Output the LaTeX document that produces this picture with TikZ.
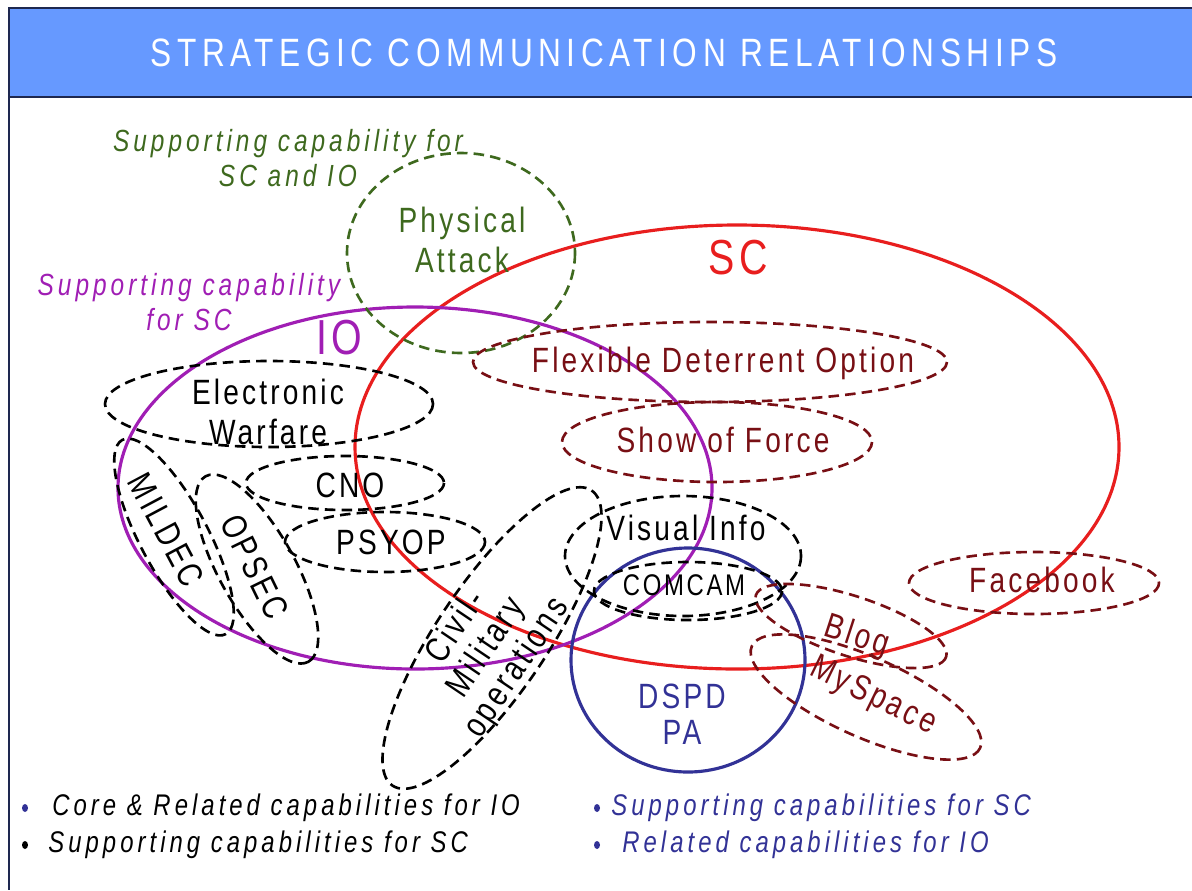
\documentclass[tikz,border=0pt]{standalone}
\usepackage{fontspec}
\setmainfont{Liberation Sans}
\newfontfamily\narrow[FakeStretch=0.8,LetterSpace=9]{Liberation Sans}
\newfontfamily\notefont[FakeStretch=0.8,LetterSpace=13]{Liberation Sans}
\newfontfamily\legendfont[FakeStretch=0.8,LetterSpace=13.5]{Liberation Sans}
\newfontfamily\titlefont[FakeStretch=0.8,LetterSpace=14]{Liberation Sans}
\definecolor{titleblue}{RGB}{102,153,255}
\definecolor{framenavy}{RGB}{30,40,80}
\definecolor{scred}{RGB}{232,30,30}
\definecolor{iopurple}{RGB}{160,30,180}
\definecolor{supgreen}{RGB}{62,105,30}
\definecolor{darkred}{RGB}{120,15,20}
\definecolor{pablue}{RGB}{50,50,150}
\begin{document}
\begin{tikzpicture}[x=0.02cm,y=-0.02cm,
	setline/.style={line width=1.8pt},
	dashline/.style={line width=1.5pt,dash pattern=on 6pt off 3.5pt},
	lbl/.style={font=\narrow\fontsize{20}{22.7}\selectfont,align=center,inner sep=0pt},
	small/.style={font=\narrow\fontsize{17}{20}\selectfont,inner sep=0pt},
	big/.style={font=\narrow\fontsize{28}{30}\selectfont,inner sep=0pt},
	note/.style={font=\notefont\itshape\fontsize{17.4}{19.9}\selectfont,align=center,inner sep=0pt},
	legend/.style={font=\legendfont\itshape\fontsize{17}{20}\selectfont,anchor=west,inner sep=0pt}]
	\useasboundingbox (0,0) rectangle (1192,890);
	% title bar
	\fill[titleblue] (9,8) rectangle (1192,97);
	\draw[framenavy,line width=1.2pt] (1192,8)--(9,8)--(9,890) (9,97)--(1192,97);
	\node[text=white,font=\titlefont\fontsize{22.5}{24}\selectfont,inner sep=0pt] (title) at (604,53) {STRATEGIC COMMUNICATION RELATIONSHIPS};
	% the three sets
	\draw[scred,setline] (737,447) ellipse [x radius=382,y radius=222];
	\draw[iopurple,setline] (415,488) ellipse [x radius=297,y radius=181];
	\draw[pablue,setline] (688,660) ellipse [x radius=117,y radius=112];
	\node[big,text=scred] (sc) at (738,258) {SC};
	\node[big,text=iopurple] (io) at (339,338) {IO};
	\node[lbl,text=pablue] (pa) at (682,714) {DSPD\\[-2pt]PA};
	% physical attack
	\draw[supgreen,dashline] (461,253) ellipse [x radius=114,y radius=100];
	\node[lbl,text=supgreen] (phys) at (462,240) {Physical\\Attack};
	\node[note,text=supgreen] (supboth) at (288,158) {Supporting capability for\\SC and IO};
	\node[note,text=iopurple] (supsc) at (189,302) {Supporting capability\\for SC};
	% core capabilities for IO
	\draw[dashline] (269,404) ellipse [x radius=164,y radius=43];
	\node[lbl] (ew) at (268,412) {Electronic\\Warfare};
	\draw[dashline] (345,483) ellipse [x radius=99,y radius=27];
	\node[lbl] (cno) at (350,485) {CNO};
	\draw[dashline] (385,542) ellipse [x radius=100,y radius=30];
	\node[lbl] (psyop) at (391,542) {PSYOP};
	\draw[dashline,rotate around={-62:(174,537)}] (174,537) ellipse [x radius=110,y radius=34];
	\node[lbl,rotate=-62] (mildec) at (166,530) {MILDEC};
	\draw[dashline,rotate around={-61:(257,569)}] (257,569) ellipse [x radius=106,y radius=38];
	\node[lbl,rotate=-64] (opsec) at (255,567) {OPSEC};
	\draw[dashline,rotate around={56:(492,638)}] (492,638) ellipse [x radius=178,y radius=55];
	\node[lbl,rotate=56] (cmo) at (487,648) {Civil-\\[-2pt]Military\\[-2pt]operations};
	\draw[dashline] (683,556) ellipse [x radius=118,y radius=60];
	\node[lbl] (vi) at (686,528) {Visual Info};
	\draw[dashline] (688,591) ellipse [x radius=94,y radius=29];
	\node[small] (comcam) at (684,585) {COMCAM};
	% supporting capabilities for SC
	\draw[darkred,dashline] (710,362) ellipse [x radius=237,y radius=40];
	\node[lbl,text=darkred] (fdo) at (723,363) {Flexible Deterrent Option};
	\draw[darkred,dashline] (717,442) ellipse [x radius=155,y radius=40];
	\node[lbl,text=darkred] (sof) at (723,440) {Show of Force};
	\draw[darkred,dashline] (1034,583) ellipse [x radius=125,y radius=31];
	\node[lbl,text=darkred] (fb) at (1042,580) {Facebook};
	\draw[darkred,dashline,rotate around={-18:(851,626)}] (851,626) ellipse [x radius=100,y radius=30];
	\node[lbl,text=darkred,rotate=-18] (blog) at (857,637) {Blog};
	\draw[darkred,dashline,rotate around={-24:(866,697)}] (866,697) ellipse [x radius=125,y radius=40];
	\node[lbl,text=darkred,rotate=-26] (myspace) at (873,697) {MySpace};
	% legend
	\fill[pablue] (25,808) ellipse [x radius=3,y radius=4];
	\node[legend] (leg1) at (52,808) {Core \& Related capabilities for IO};
	\fill[black] (25,845) ellipse [x radius=3,y radius=4];
	\node[legend] (leg2) at (48,845) {Supporting capabilities for SC};
	\fill[pablue] (597,808) ellipse [x radius=3,y radius=4];
	\node[legend,text=pablue] (leg3) at (611,808) {Supporting capabilities for SC};
	\fill[pablue] (597,845) ellipse [x radius=3,y radius=4];
	\node[legend,text=pablue] (leg4) at (622,845) {Related capabilities for IO};
\end{tikzpicture}
\end{document}
